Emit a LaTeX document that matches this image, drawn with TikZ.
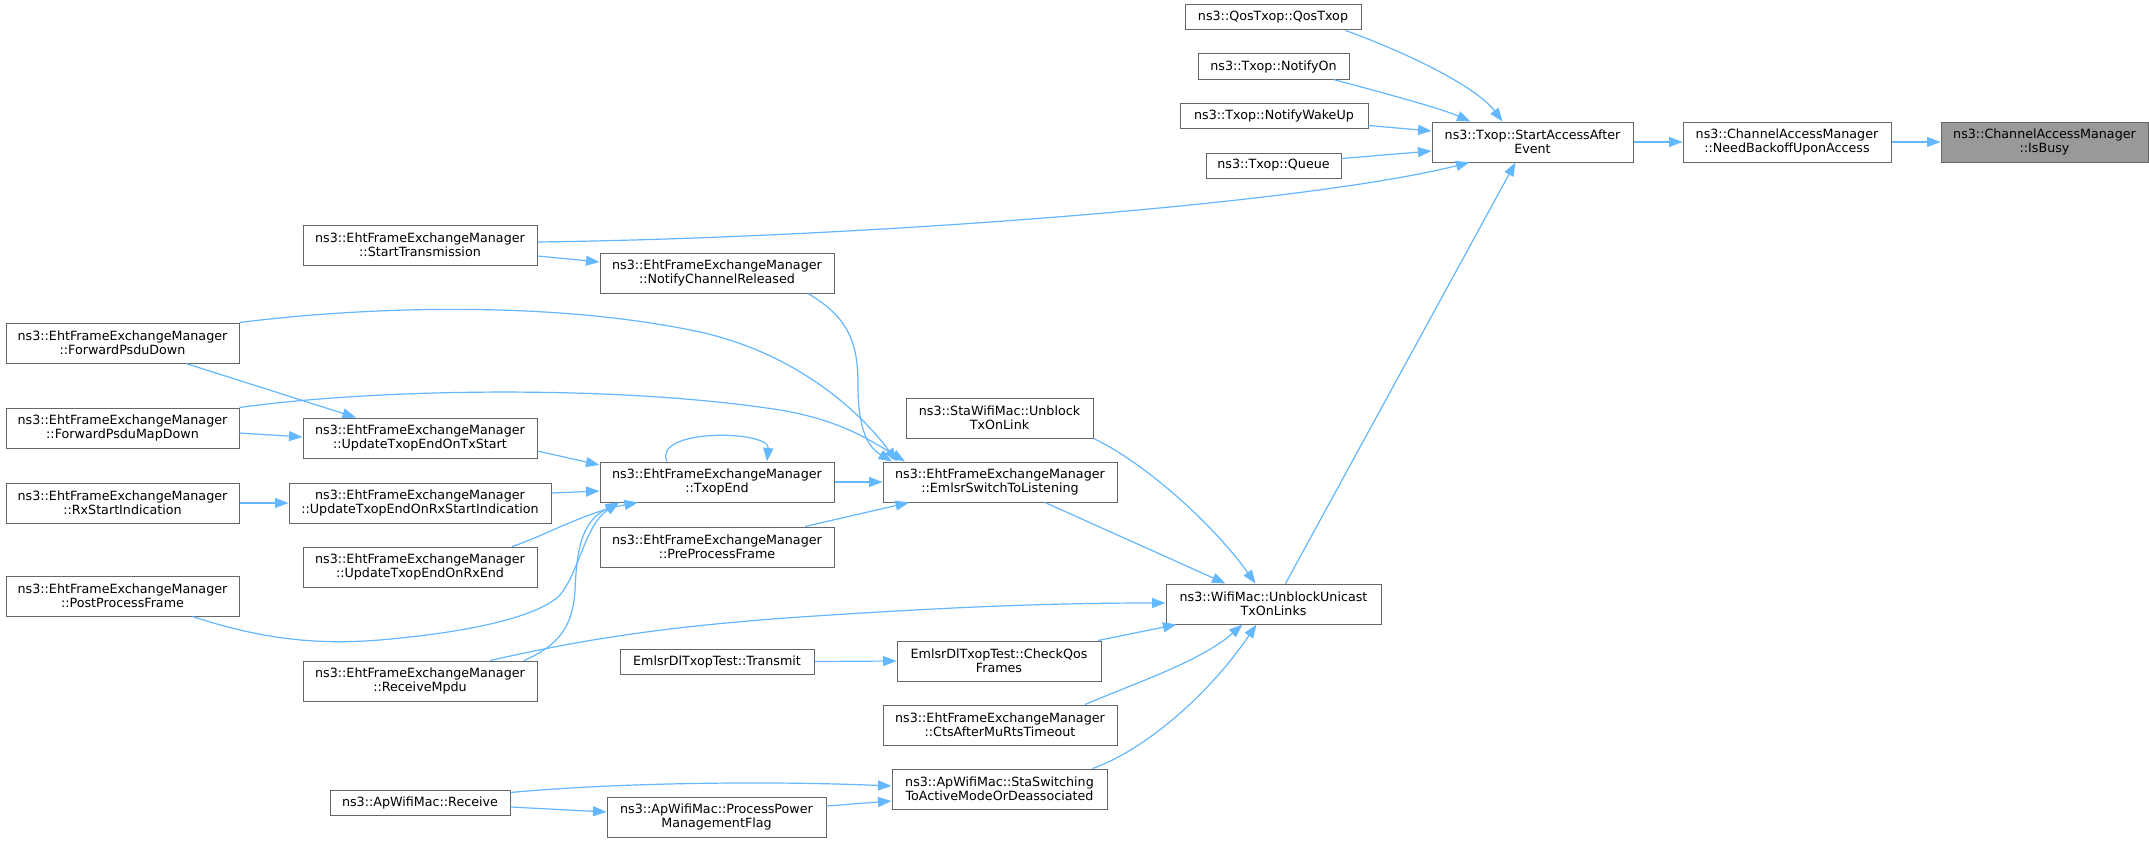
\documentclass[tikz,border=0pt]{standalone}
\usepackage{fontspec}
\setmainfont{DejaVu Sans}
\usetikzlibrary{arrows.meta,calc}
\definecolor{edgec}{HTML}{63B8FF}
\definecolor{bord}{HTML}{666666}
\definecolor{hl}{HTML}{999999}
\begin{document}
\begin{tikzpicture}[x=1pt,y=-1pt,
  box/.style={draw=bord, line width=1pt, fill=white, rectangle, inner sep=0pt, align=center,
    font=\fontsize{12.7}{14.5}\selectfont, minimum height=40pt},
  sbox/.style={box, minimum height=25pt},
  hbox/.style={box, fill=hl},
  edge/.style={draw=edgec, line width=1.2pt, -{Triangle[length=13.5pt,width=10pt]}}]
\useasboundingbox[fill=white] (0,0) rectangle (2149,843);

% nodes
\node[hbox, minimum width=207pt] (isbusy) at (2044.5,142) {ns3::ChannelAccessManager\\::IsBusy};
\node[box, minimum width=208pt] (need) at (1787,142) {ns3::ChannelAccessManager\\::NeedBackoffUponAccess};
\node[box, minimum width=201pt] (saa) at (1532.5,142) {ns3::Txop::StartAccessAfter\\Event};
\node[sbox, minimum width=176pt] (qos) at (1273,17.5) {ns3::QosTxop::QosTxop};
\node[sbox, minimum width=151pt] (non) at (1273.5,66.5) {ns3::Txop::NotifyOn};
\node[sbox, minimum width=188pt] (nwu) at (1274,115.5) {ns3::Txop::NotifyWakeUp};
\node[sbox, minimum width=135pt] (queue) at (1273.5,165.5) {ns3::Txop::Queue};
\node[box, minimum width=234pt] (st) at (420,245) {ns3::EhtFrameExchangeManager\\::StartTransmission};
\node[box, minimum width=234pt] (ncr) at (717,273) {ns3::EhtFrameExchangeManager\\::NotifyChannelReleased};
\node[box, minimum width=233pt] (fpd) at (122.5,343) {ns3::EhtFrameExchangeManager\\::ForwardPsduDown};
\node[box, minimum width=233pt] (fpmd) at (122.5,428) {ns3::EhtFrameExchangeManager\\::ForwardPsduMapDown};
\node[box, minimum width=234pt] (utets) at (420,438) {ns3::EhtFrameExchangeManager\\::UpdateTxopEndOnTxStart};
\node[box, minimum width=233pt] (rxsi) at (122.5,503) {ns3::EhtFrameExchangeManager\\::RxStartIndication};
\node[box, minimum width=262pt] (uterxsi) at (420,503) {ns3::EhtFrameExchangeManager\\::UpdateTxopEndOnRxStartIndication};
\node[box, minimum width=234pt] (txopend) at (717,482) {ns3::EhtFrameExchangeManager\\::TxopEnd};
\node[box, minimum width=233pt] (ppf) at (122.5,596) {ns3::EhtFrameExchangeManager\\::PostProcessFrame};
\node[box, minimum width=234pt] (uterxe) at (420,567) {ns3::EhtFrameExchangeManager\\::UpdateTxopEndOnRxEnd};
\node[box, minimum width=234pt] (rmpdu) at (420,681) {ns3::EhtFrameExchangeManager\\::ReceiveMpdu};
\node[sbox, minimum width=180pt] (apr) at (420,802.5) {ns3::ApWifiMac::Receive};
\node[box, minimum width=234pt] (pre) at (717,547) {ns3::EhtFrameExchangeManager\\::PreProcessFrame};
\node[sbox, minimum width=194pt] (tr) at (717,661.5) {EmlsrDlTxopTest::Transmit};
\node[box, minimum width=219pt] (ppmf) at (716.5,817) {ns3::ApWifiMac::ProcessPower\\ManagementFlag};
\node[box, minimum width=187pt] (stau) at (999.5,418) {ns3::StaWifiMac::Unblock\\TxOnLink};
\node[box, minimum width=234pt] (emlsr) at (1000,482) {ns3::EhtFrameExchangeManager\\::EmlsrSwitchToListening};
\node[box, minimum width=204pt] (cq) at (999,661) {EmlsrDlTxopTest::CheckQos\\Frames};
\node[box, minimum width=234pt] (cts) at (1000,725) {ns3::EhtFrameExchangeManager\\::CtsAfterMuRtsTimeout};
\node[box, minimum width=215pt] (sws) at (999.5,789) {ns3::ApWifiMac::StaSwitching\\ToActiveModeOrDeassociated};
\node[box, minimum width=215pt] (uu) at (1273.5,604) {ns3::WifiMac::UnblockUnicast\\TxOnLinks};

% edges
\draw[edge] (need.east) -- (isbusy.west);
\draw[edge] (saa.east) -- (need.west);
\draw[edge] ($(qos.south east)+(-16,0)$) .. controls (1400,50) and (1475,85) .. ($(saa.north)+(-30,0)$);
\draw[edge] ($(non.south east)+(-16,0)$) .. controls (1380,92) and (1440,108) .. ($(saa.north)+(-62,0)$);
\draw[edge] ($(nwu.east)+(0,10)$) -- ($(saa.west)+(0,-11)$);
\draw[edge] ($(queue.east)+(0,-7)$) -- ($(saa.west)+(0,9)$);
\draw[edge] ($(st.east)+(0,-3)$) .. controls (850,238) and (1300,205) .. ($(saa.south)+(-63,0)$);
\draw[edge] ($(uu.north)+(12,0)$) -- ($(saa.south)+(-17,0)$);
\draw[edge] ($(st.east)+(0,11)$) -- ($(ncr.west)+(0,-11)$);
\draw[edge] ($(ncr.south)+(91,0)$) .. controls (850,318) and (858,345) .. (858,385)
  .. controls (858,430) and (868,447) .. ($(emlsr.north)+(-108,0)$);
\draw[edge] (fpd.north east) .. controls (380,305) and (560,302) .. (700,332)
  .. controls (790,352) and (855,405) .. ($(emlsr.north)+(-103,0)$);
\draw[edge] ($(fpmd.north east)+(0,0)$) .. controls (380,388) and (620,385) .. (780,410)
  .. controls (840,420) and (870,440) .. ($(emlsr.north)+(-95,0)$);
\draw[edge] ($(fpd.south)+(63.5,0)$) -- ($(utets.north)+(-64,0)$);
\draw[edge] ($(fpmd.east)+(0,5)$) -- ($(utets.west)+(0,-1)$);
\draw[edge] ($(utets.east)+(0,13)$) -- ($(txopend.west)+(0,-17)$);
\draw[edge] ($(txopend.north)+(-50,0)$) .. controls (652,428) and (770,430) .. ($(txopend.north)+(50,0)$);
\draw[edge] (txopend.east) -- (emlsr.west);
\draw[edge] (rxsi.east) -- (uterxsi.west);
\draw[edge] ($(uterxsi.east)+(0,-10)$) -- ($(txopend.west)+(0,9)$);
\draw[edge] ($(uterxe.north)+(92,0)$) .. controls (540,538) and (585,512) .. ($(txopend.south)+(-79,0)$);
\draw[edge] ($(ppf.south)+(70,0)$) .. controls (270,642) and (330,646) .. (400,638)
  .. controls (480,630) and (540,615) .. (560,595)
  .. controls (580,570) and (585,525) .. ($(txopend.south)+(-98,0)$);
\draw[edge] ($(rmpdu.north)+(104,0)$) .. controls (560,645) and (573,625) .. (575,590)
  .. controls (577,540) and (585,520) .. ($(txopend.south)+(-98,0)$);
\draw[edge] ($(rmpdu.north)+(70,0)$) .. controls (560,645) and (640,628) .. (800,617)
  .. controls (950,607) and (1050,603) .. ($(uu.west)+(0,-1)$);
\draw[edge] ($(pre.north)+(88,0)$) -- ($(emlsr.south)+(-91,0)$);
\draw[edge] (stau.south east) .. controls (1140,460) and (1210,520) .. ($(uu.north)+(-18,0)$);
\draw[edge] ($(emlsr.south)+(45,0)$) -- ($(uu.north)+(-48,0)$);
\draw[edge] (tr.east) -- (cq.west);
\draw[edge] ($(cq.north)+(99,0)$) -- ($(uu.south)+(-97,0)$);
\draw[edge] ($(cts.north)+(85,0)$) .. controls (1130,685) and (1200,662) .. ($(uu.south)+(-31,0)$);
\draw[edge] ($(sws.north)+(93,0)$) .. controls (1140,752) and (1205,700) .. ($(uu.south)+(-17,0)$);
\draw[edge] ($(apr.east)+(0,-10)$) .. controls (600,784) and (750,780) .. ($(sws.west)+(0,-3)$);
\draw[edge] ($(apr.east)+(0,4.5)$) -- ($(ppmf.west)+(0,-5)$);
\draw[edge] ($(ppmf.east)+(0,-11)$) -- ($(sws.west)+(0,12)$);
\end{tikzpicture}
\end{document}
